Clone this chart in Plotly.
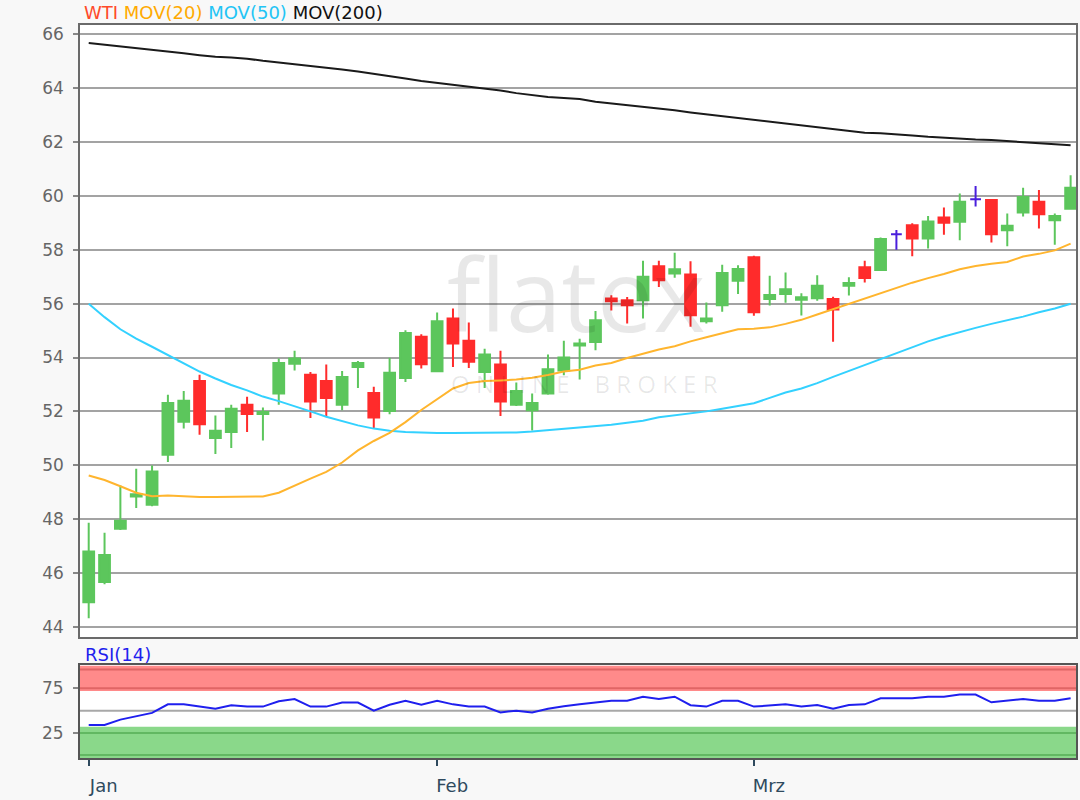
import plotly.graph_objects as go
import pandas as pd

# ---------------- data ----------------
dates = [d.strftime("%Y-%m-%d") for d in pd.bdate_range("2019-01-02", "2019-03-29")]

open_ = [44.91, 45.66, 47.64, 48.84, 48.53, 50.39, 51.61, 53.13, 51.01, 51.23,
         52.25, 51.90, 52.66, 53.77, 53.36, 53.13, 52.25, 53.65, 52.68, 52.01,
         53.24, 54.77, 53.49, 55.45, 54.62, 53.46, 53.74, 52.25, 52.04, 52.66,
         53.52, 54.45, 54.58, 56.19, 56.13, 56.13, 57.39, 57.12, 57.08, 55.35,
         55.94, 56.85, 57.72, 56.17, 56.36, 56.15, 56.20, 56.17, 56.67, 57.35,
         57.25, 58.58, 58.91, 58.42, 59.20, 59.04, 59.88, 59.85, 58.73, 59.39,
         59.79, 59.10, 59.53]
high = [47.86, 47.49, 49.25, 49.87, 49.99, 52.62, 52.76, 53.36, 51.85, 52.25,
        52.54, 52.14, 53.96, 54.25, 53.46, 53.74, 53.50, 53.87, 52.91, 53.99,
        55.01, 54.86, 55.67, 55.82, 55.30, 54.33, 54.25, 53.07, 52.66, 54.11,
        54.62, 54.70, 55.73, 56.31, 56.25, 57.59, 57.59, 57.89, 57.58, 56.04,
        57.45, 57.43, 57.78, 57.04, 57.16, 56.39, 57.06, 56.26, 56.98, 57.59,
        58.46, 58.74, 58.99, 59.26, 59.57, 60.09, 60.37, 59.87, 59.35, 60.31,
        60.22, 59.35, 60.77]
low = [44.32, 45.58, 47.59, 48.41, 48.48, 50.12, 51.36, 51.13, 50.42, 50.64,
       51.23, 50.92, 52.25, 53.52, 51.75, 51.83, 52.04, 52.87, 51.38, 51.89,
       53.09, 53.59, 53.46, 53.65, 53.61, 52.87, 51.83, 52.20, 51.29, 52.62,
       53.34, 53.18, 54.27, 55.75, 55.26, 55.45, 56.62, 56.96, 55.14, 55.26,
       55.70, 56.36, 55.55, 55.93, 56.03, 55.56, 56.11, 54.59, 56.30, 56.79,
       57.25, 58.00, 57.76, 58.05, 58.56, 58.36, 59.61, 58.27, 58.13, 59.24,
       58.79, 58.19, 59.50]
close = [46.80, 46.67, 47.94, 48.92, 49.77, 52.31, 52.39, 51.52, 51.28, 52.10,
         51.90, 51.98, 53.80, 53.96, 52.37, 52.50, 53.28, 53.80, 51.77, 53.43,
         54.91, 53.75, 55.35, 54.52, 53.84, 54.11, 52.37, 52.76, 52.31, 53.56,
         54.00, 54.52, 55.38, 56.09, 55.94, 57.00, 56.87, 57.28, 55.57, 55.45,
         57.14, 57.29, 55.68, 56.32, 56.54, 56.24, 56.67, 55.78, 56.77, 56.95,
         58.40, 58.58, 58.42, 59.05, 59.01, 59.79, 59.88, 58.58, 58.89, 59.96,
         59.32, 59.26, 60.31]

mov20 = [49.62, 49.45, 49.22, 48.98, 48.85, 48.88, 48.85, 48.82, 48.82, 48.82,
         48.82, 48.84, 48.98, 49.25, 49.50, 49.75, 50.10, 50.55, 50.90, 51.20,
         51.60, 52.05, 52.45, 52.85, 53.05, 53.13, 53.15, 53.18, 53.25, 53.35,
         53.48, 53.55, 53.70, 53.80, 53.98, 54.15, 54.30, 54.42, 54.60, 54.75,
         54.90, 55.05, 55.07, 55.12, 55.25, 55.40, 55.60, 55.80, 56.00, 56.18,
         56.40, 56.60, 56.78, 56.95, 57.10, 57.28, 57.40, 57.48, 57.55, 57.75,
         57.85, 57.98, 58.23]
mov50 = [56.00, 55.50, 55.05, 54.70, 54.40, 54.10, 53.78, 53.48, 53.22, 52.98,
         52.78, 52.55, 52.38, 52.20, 52.00, 51.80, 51.65, 51.48, 51.36, 51.28,
         51.23, 51.21, 51.20, 51.20, 51.20, 51.20, 51.21, 51.22, 51.25, 51.30,
         51.36, 51.40, 51.45, 51.50, 51.58, 51.65, 51.78, 51.85, 51.92, 52.00,
         52.10, 52.20, 52.30, 52.50, 52.70, 52.85, 53.05, 53.28, 53.50, 53.72,
         53.95, 54.15, 54.38, 54.60, 54.78, 54.95, 55.10, 55.25, 55.38, 55.52,
         55.68, 55.82, 56.00]
mov200 = [65.68, 65.62, 65.56, 65.50, 65.43, 65.37, 65.30, 65.23, 65.17, 65.14,
          65.10, 65.02, 64.96, 64.90, 64.84, 64.78, 64.70, 64.62, 64.54, 64.45,
          64.36, 64.27, 64.20, 64.15, 64.08, 64.00, 63.92, 63.82, 63.74, 63.68,
          63.64, 63.60, 63.50, 63.44, 63.38, 63.32, 63.24, 63.18, 63.10, 63.03,
          62.97, 62.90, 62.84, 62.77, 62.70, 62.63, 62.55, 62.48, 62.40, 62.35,
          62.33, 62.30, 62.25, 62.20, 62.16, 62.12, 62.10, 62.08, 62.04, 62.00,
          61.95, 61.90, 61.88]
rsi = [34, 34, 40, 44, 47.5, 57, 57, 54.5, 52, 56,
       54.5, 54.5, 60.5, 63, 54.5, 54.5, 59, 59, 50, 56.5,
       61, 56.5, 61, 57, 54.5, 54.5, 48, 50, 48, 52,
       55, 57, 59, 61, 61, 65.5, 63, 65.5, 56, 54.5,
       61, 61, 54.5, 56, 57, 54.5, 56.3, 52, 56.3, 57,
       63.7, 63.7, 63.7, 65.6, 65.6, 68, 68, 59.3, 61.1, 63,
       61.1, 61.1, 63.7]

month_ticks = ["2019-01-02", "2019-02-01", "2019-03-01"]
month_labels = ["Jan", "Feb", "Mrz"]
price_ticks = list(range(44, 67, 2))
rsi_ticks = [25, 75]

# ---------------- styles ----------------
GREEN = "#5cc65c"
RED = "#ff2b2b"
VIOLET = "#4a1fdc"
FONT = "DejaVu Sans"

fig = go.Figure()


def subset(cond):
    idx = [i for i in range(len(dates)) if cond(open_[i], close[i])]
    return ([dates[i] for i in idx], [open_[i] for i in idx], [high[i] for i in idx],
            [low[i] for i in idx], [close[i] for i in idx])


for cond, col in [(lambda o, c: c > o, GREEN), (lambda o, c: c < o, RED), (lambda o, c: c == o, VIOLET)]:
    x, o, h, l, c = subset(cond)
    fig.add_trace(go.Candlestick(
        x=x, open=o, high=h, low=l, close=c,
        increasing=dict(line=dict(color=col, width=2), fillcolor=col),
        decreasing=dict(line=dict(color=col, width=2), fillcolor=col),
        whiskerwidth=0, showlegend=False, hoverinfo="skip",
        xaxis="x", yaxis="y"))

fig.add_trace(go.Scatter(x=dates, y=mov200, mode="lines", line=dict(color="#1a1a1a", width=2),
                         showlegend=False, xaxis="x", yaxis="y"))
fig.add_trace(go.Scatter(x=dates, y=mov50, mode="lines", line=dict(color="#33d1ff", width=2),
                         showlegend=False, xaxis="x", yaxis="y"))
fig.add_trace(go.Scatter(x=dates, y=mov20, mode="lines", line=dict(color="#ffb52e", width=2),
                         showlegend=False, xaxis="x", yaxis="y"))

fig.add_trace(go.Scatter(x=dates, y=rsi, mode="lines", line=dict(color="#1f1fee", width=2),
                         showlegend=False, xaxis="x2", yaxis="y2"))

xr = [-0.55, 62.34]

# RSI bands
shapes = [
    dict(type="rect", xref="x2 domain", yref="y2", x0=0, x1=1, y0=72, y1=100,
         fillcolor="#ff8a8a", line=dict(width=0), layer="below"),
    dict(type="rect", xref="x2 domain", yref="y2", x0=0, x1=1, y0=-3, y1=32,
         fillcolor="#8ad88a", line=dict(width=0), layer="below"),
    dict(type="line", xref="x2 domain", yref="y2", x0=0, x1=1, y0=75, y1=75,
         line=dict(color="#e06565", width=2), layer="below"),
    dict(type="line", xref="x2 domain", yref="y2", x0=0, x1=1, y0=96, y1=96,
         line=dict(color="#e06565", width=2), layer="below"),
    dict(type="line", xref="x2 domain", yref="y2", x0=0, x1=1, y0=25, y1=25,
         line=dict(color="#62b862", width=2), layer="below"),
    dict(type="line", xref="x2 domain", yref="y2", x0=0, x1=1, y0=0.5, y1=0.5,
         line=dict(color="#62b862", width=2), layer="below"),
    dict(type="line", xref="x2 domain", yref="y2", x0=0, x1=1, y0=50, y1=50,
         line=dict(color="#a8a8a8", width=2), layer="below"),
]

annotations = [
    dict(xref="paper", yref="paper", x=0.002, y=1.017, xanchor="left", yanchor="middle",
         showarrow=False, font=dict(family=FONT, size=18),
         text="<span style='color:#ff4a2a'>WTI</span> <span style='color:#ffaa00'>MOV(20)</span> "
              "<span style='color:#22c4f5'>MOV(50)</span> <span style='color:#111111'>MOV(200)</span>"),
    dict(xref="paper", yref="paper", x=0.003, y=0.141, xanchor="left", yanchor="middle",
         showarrow=False, font=dict(family=FONT, size=18, color="#1f1fee"), text="RSI(14)"),
    dict(xref="x", yref="y", x=30.8, y=56.4, showarrow=False,
         font=dict(family="Open Sans", size=100, color="rgba(0,0,0,0.09)"), text="flatex"),
    dict(xref="x", yref="y", x=31.3, y=53.05, showarrow=False,
         font=dict(family="Open Sans", size=24, color="rgba(0,0,0,0.09)"), text="O N L I N E    B R O K E R"),
]

fig.update_layout(
    width=1080, height=800,
    margin=dict(l=80, r=2, t=25, b=42),
    paper_bgcolor="#f8f8f8", plot_bgcolor="#ffffff",
    boxgap=0.32, boxgroupgap=0,
    font=dict(family=FONT, size=17, color="#666666"),
    shapes=shapes, annotations=annotations,
    hovermode=False,
    xaxis=dict(domain=[0, 1], anchor="y", type="category", range=xr, rangeslider=dict(visible=False),
               categoryorder="array", categoryarray=dates,
               showgrid=False, showticklabels=False, ticks="",
               showline=True, mirror=True, linecolor="#6a6a6a", linewidth=1.5, zeroline=False),
    yaxis=dict(domain=[0.1647, 1], anchor="x", range=[43.61, 66.35], tickvals=price_ticks,
               ticks="outside", ticklen=5, tickcolor="#888888", tickwidth=1.5,
               ticklabelstandoff=6,
               showgrid=True, gridcolor="#a3a3a3", gridwidth=2,
               showline=True, mirror=True, linecolor="#6a6a6a", linewidth=1.5, zeroline=False),
    xaxis2=dict(domain=[0, 1], anchor="y2", type="category", range=xr, categoryorder="array",
                categoryarray=dates,
                tickvals=month_ticks, ticktext=month_labels, ticks="outside", ticklen=6,
                tickcolor="#2f4a5e", tickwidth=2, ticklabelshift=15, ticklabelstandoff=4,
                tickfont=dict(family=FONT, size=18, color="#2f4a5e"),
                showgrid=False, showline=True, mirror=True, linecolor="#555555", linewidth=2, zeroline=False),
    yaxis2=dict(domain=[0, 0.1269], anchor="x2", range=[-2.8, 100.9], tickvals=rsi_ticks,
                ticks="outside", ticklen=5, tickcolor="#888888", tickwidth=1.5, ticklabelstandoff=6,
                showgrid=False, showline=True, mirror=True, linecolor="#555555", linewidth=2,
                zeroline=False),
)

fig.write_html("out.html", config={"displayModeBar": False},
               post_script="document.body.style.margin='0px';document.body.style.overflow='hidden';")
